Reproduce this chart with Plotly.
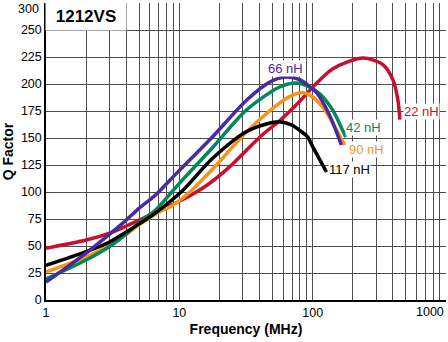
import numpy as np
import plotly.graph_objects as go

# ---- data (frequency in MHz, Q factor) ----
f_22 = [1, 2, 3, 4, 5, 6.6, 11, 16, 23.7, 32, 42, 56.5, 80, 100, 141, 238, 336, 400, 436, 451]
q_22 = [48, 55.5, 62, 68.5, 74, 81, 94, 106, 123, 139, 153, 166, 184, 197, 214, 224, 218, 204, 185, 167]

f_42 = [1, 2, 3, 4, 5, 6.6, 10, 17.7, 31.9, 56, 75, 91.7, 113, 141, 168, 177]
q_42 = [19.4, 37, 49.5, 61, 72, 83, 108, 141, 176, 197, 201, 198, 191, 176, 157, 151]

f_66 = [1, 2, 3, 4, 5, 6.6, 10, 17.7, 31.9, 48, 63, 80, 107, 134, 164]
q_66 = [16.7, 43.5, 61, 74, 85, 97, 120, 151, 185, 202, 206.5, 204, 192, 171, 143.5]

f_90 = [1, 2, 3, 4, 5, 6.6, 9, 12, 17.7, 31.9, 56, 70, 85, 100, 120, 141, 174]
q_90 = [26, 40, 51, 61, 69.5, 79.5, 88, 100, 121, 155.5, 182, 189.5, 192, 188, 178, 164, 143.5]

f_117 = [1, 2, 3, 4, 5, 6.6, 10.5, 17.7, 31.9, 45, 56, 70, 80, 91.7, 100, 127]
q_117 = [32, 44.7, 53.7, 63, 70.5, 80.5, 101, 131, 156, 163, 165, 162, 157, 151, 142, 118.5]

series = [
    ("22 nH", f_22, q_22, "#c8102e"),
    ("90 nH", f_90, q_90, "#f7941d"),
    ("42 nH", f_42, q_42, "#00875a"),
    ("117 nH", f_117, q_117, "#000000"),
    ("66 nH", f_66, q_66, "#4b2a9b"),
]

# label positions (log10 f, Q)
labels = {
    "66 nH": (1.7925, 214.8),
    "22 nH": (2.8125, 175),
    "42 nH": (2.3775, 160),
    "90 nH": (2.40, 139.8),
    "117 nH": (2.2725, 120.4),
}

y_tickvals = [0, 25, 50, 75, 100, 125, 150, 175, 200, 225, 250, 275]
y_ticktext = ["0", "25", "50", "75", "100", "125", "150", "175", "200", "225", "250", ""]
top_label = "300"

x_tickvals = []
x_ticktext = []
for dec in [1, 10, 100]:
    for m in range(1, 10):
        x_tickvals.append(m * dec)
        x_ticktext.append(str(dec) if m == 1 else "")
x_tickvals.append(1000)
x_ticktext.append("")

FONT = "Arial, Liberation Sans, Helvetica, sans-serif"
GRID = "#4d4d4d"
TICK = 12.5

fig = go.Figure()
for name, f, q, c in series:
    fig.add_trace(go.Scatter(x=f, y=q, mode="lines", name=name,
                             line=dict(color=c, width=3.5, shape="spline", smoothing=0.8),
                             showlegend=False))

for name, f, q, c in series:
    lx, ly = labels[name]
    fig.add_annotation(x=lx, y=ly, xref="x", yref="y", text=name, showarrow=False,
                       xanchor="center", yanchor="middle",
                       font=dict(family=FONT, size=13, color=c), bgcolor="white",
                       borderpad=0)

# title box (white background hides the grid)
fig.add_annotation(xref="paper", yref="paper", x=np.log10(4) / 6, y=262.5 / 275,
                   xanchor="center", yanchor="middle", width=78, height=25,
                   bgcolor="white", text="<b>1212VS</b>", showarrow=False,
                   font=dict(family=FONT, size=17, color="black"))

# top y label and right-aligned 1000 label
fig.add_annotation(xref="paper", yref="y", x=0, y=275, xanchor="right", yanchor="top",
                   xshift=-5, yshift=3, text=top_label, showarrow=False,
                   font=dict(family=FONT, size=TICK, color="black"))
fig.add_annotation(xref="x", yref="paper", x=3, y=0, xanchor="right", yanchor="top",
                   yshift=-3, text="1000", showarrow=False,
                   font=dict(family=FONT, size=TICK, color="black"))

fig.update_layout(
    width=448, height=342,
    margin=dict(l=46, r=2, t=3, b=42),
    paper_bgcolor="white", plot_bgcolor="white",
    font=dict(family=FONT, size=TICK, color="black"),
    xaxis=dict(type="log", range=[0, 3], tickvals=x_tickvals, ticktext=x_ticktext,
               showgrid=True, gridcolor=GRID, gridwidth=1.3, zeroline=False,
               showline=True, linecolor="black", linewidth=1.5, ticks="",
               title=dict(text="<b>Frequency (MHz)</b>", font=dict(size=14), standoff=5)),
    yaxis=dict(range=[0, 275], tickvals=y_tickvals, ticktext=y_ticktext,
               showgrid=True, gridcolor=GRID, gridwidth=1.3, zeroline=False,
               showline=True, linecolor="black", linewidth=1.5, ticks="",
               title=dict(text="<b>Q Factor</b>", font=dict(size=14), standoff=7)),
)

fig.write_html("out.html")
